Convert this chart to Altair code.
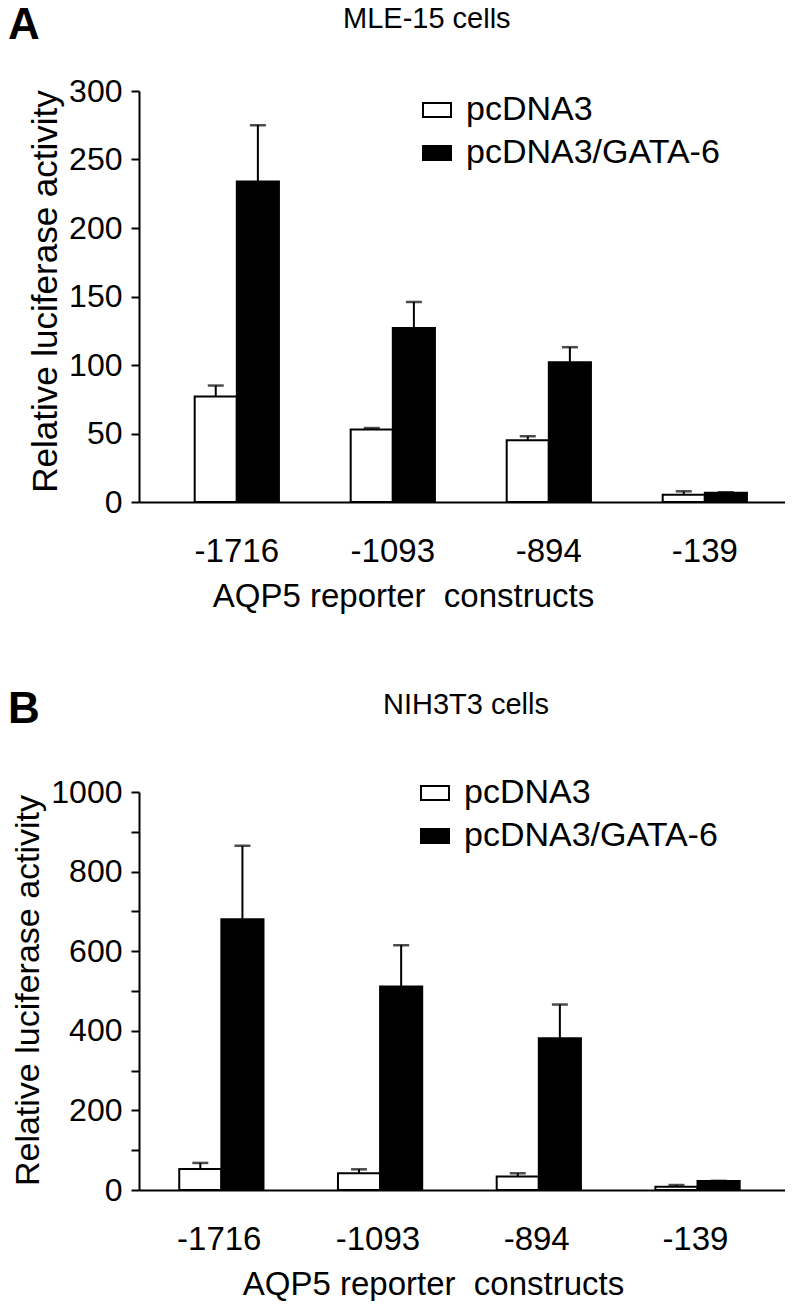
import altair as alt
import pandas as pd

constructs = ["-1716", "-1093", "-894", "-139"]
groups = ["pcDNA3", "pcDNA3/GATA-6"]

# Panel A: MLE-15 cells
a_pcdna3 = [77, 53, 45, 5.3]
a_pcdna3_err = [8, 1, 3, 2.5]
a_gata6 = [234, 127, 102, 6.8]
a_gata6_err = [41, 19, 11, 0.3]

# Panel B: NIH3T3 cells
b_pcdna3 = [53, 42, 34, 8]
b_pcdna3_err = [15, 10, 8, 4.5]
b_gata6 = [680, 511, 381, 22.6]
b_gata6_err = [185, 104, 85, 0.4]

a_ticks = [0, 50, 100, 150, 200, 250, 300]
b_ticks = [0, 100, 200, 300, 400, 500, 600, 700, 800, 900, 1000]

FONT = "Liberation Sans"


def frame(pc, pc_err, ga, ga_err):
    rows = []
    for i, c in enumerate(constructs):
        rows.append(dict(construct=c, group=groups[0], value=pc[i], upper=pc[i] + pc_err[i]))
        rows.append(dict(construct=c, group=groups[1], value=ga[i], upper=ga[i] + ga_err[i]))
    return pd.DataFrame(rows)


def panel(df, letter, title, ymax, yvals, label_expr, width, height, pi, po, align,
          legend_x, legend_y, title_x, title_y, letter_y, ytitle_x, ytitle_y, ytitle_size, xtitle_x):
    x = alt.X(
        "construct:N", sort=constructs,
        scale=alt.Scale(paddingInner=pi, paddingOuter=po, align=align),
        axis=alt.Axis(
            title="AQP5 reporter\u00a0 constructs", labelAngle=0, ticks=False,
            domainColor="black", domainWidth=2,
            labelFont=FONT, labelFontSize=33, labelColor="black", labelPadding=33,
            titleFont=FONT, titleFontSize=33, titleFontWeight="normal", titleColor="black",
            titleX=xtitle_x, titleY=104, titleBaseline="alphabetic",
        ),
    )
    xo = alt.XOffset("group:N", sort=groups, scale=alt.Scale(paddingInner=0, paddingOuter=0))
    yaxis = alt.Axis(
        values=yvals, labelExpr=label_expr, format="d", grid=False,
        tickSize=8, tickWidth=2, tickColor="black", domainColor="black", domainWidth=2,
        labelFont=FONT, labelFontSize=32, labelColor="black", labelPadding=9,
        title="Relative luciferase activity", titleFont=FONT, titleFontSize=ytitle_size,
        titleFontWeight="normal", titleColor="black", titleX=ytitle_x, titleY=ytitle_y,
        titleBaseline="middle",
    )
    yscale = alt.Scale(domain=[0, ymax], nice=False, zero=True)
    y = alt.Y("value:Q", scale=yscale, axis=yaxis)

    bars = alt.Chart(df).mark_bar(stroke="black", strokeWidth=2).encode(
        x=x, xOffset=xo, y=y,
        fill=alt.Fill(
            "group:N", sort=groups,
            scale=alt.Scale(domain=groups, range=["white", "black"]),
            legend=alt.Legend(
                title=None, orient="none", legendX=legend_x, legendY=legend_y,
                symbolType="M-1,-0.5H1V0.5H-1Z", symbolSize=784,
                symbolStrokeColor="black", symbolStrokeWidth=2, symbolOpacity=1,
                labelFont=FONT, labelFontSize=34, labelColor="black", labelLimit=0,
                labelOffset=12, rowPadding=9,
            ),
        ),
    )
    rules = alt.Chart(df).mark_rule(color="black", strokeWidth=2).encode(
        x=x, xOffset=xo, y=y, y2="upper:Q"
    )
    caps = alt.Chart(df).mark_tick(color="black", thickness=2.5, size=16).encode(
        x=x, xOffset=xo, y=alt.Y("upper:Q", scale=yscale, axis=yaxis)
    )
    ttl = alt.Chart(pd.DataFrame({"t": [title]})).mark_text(
        align="left", baseline="alphabetic", font=FONT, fontSize=29, color="black"
    ).encode(text="t:N", x=alt.value(title_x), y=alt.value(title_y))
    let = alt.Chart(pd.DataFrame({"t": [letter]})).mark_text(
        align="left", baseline="alphabetic", font=FONT, fontSize=44, fontWeight="bold", color="black"
    ).encode(text="t:N", x=alt.value(-131), y=alt.value(letter_y))
    return alt.layer(bars, rules, caps, ttl, let).properties(width=width, height=height)


pa = panel(frame(a_pcdna3, a_pcdna3_err, a_gata6, a_gata6_err), "A", "MLE-15 cells",
           300, a_ticks, "datum.label", 646, 411, 0.46, 0.3005, 0.594,
           281, 2, 204, -63, -52, -94, 200, 35, 264)
pb = panel(frame(b_pcdna3, b_pcdna3_err, b_gata6, b_gata6_err), "B", "NIH3T3 cells",
           1000, b_ticks, "datum.value % 200 === 0 ? datum.label : ''", 646, 398, 0.496, 0.283, 0.448,
           279, -16, 244, -78, -69, -111, 198, 34, 294)

chart = alt.vconcat(pa, pb, spacing=75).resolve_scale(fill="independent").properties(
    padding={"left": 0, "top": -4, "right": 0, "bottom": 0}
).configure_view(stroke=None)

chart.save("out.html", embed_options={"renderer": "svg", "actions": False})
